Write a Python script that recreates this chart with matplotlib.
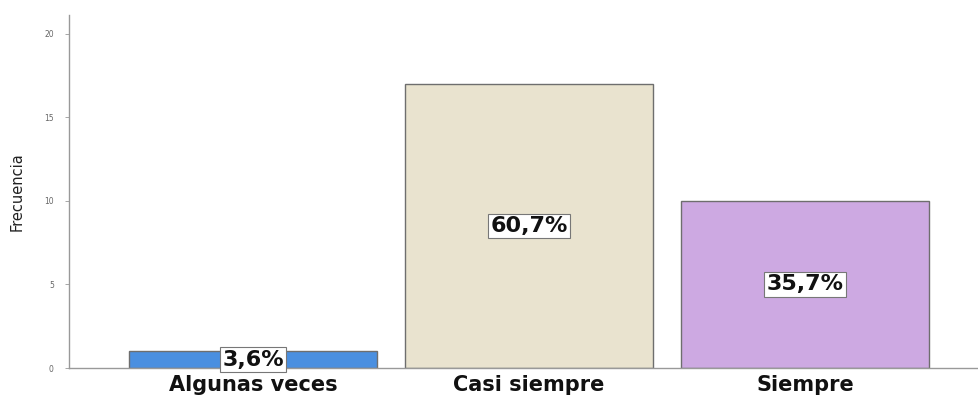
import matplotlib
matplotlib.use("Agg")
import matplotlib.pyplot as plt

categories = ["Algunas veces", "Casi siempre", "Siempre"]
counts = [1, 17, 10]
percent_labels = ["3,6%", "60,7%", "35,7%"]
colors = ["#4a8fe0", "#e9e3cf", "#cda9e2"]
yticks = [0, 5, 10, 15, 20]

fig = plt.figure(figsize=(9.79, 3.96), dpi=100)
ax = fig.add_axes([0.0705, 0.0707, 0.9295, 0.891])
x = list(range(len(categories)))
ax.bar(x, counts, width=0.9, color=colors, edgecolor="#6e6e6e", linewidth=1.0, zorder=2)
for xi, c, lab in zip(x, counts, percent_labels):
    ax.text(xi, c / 2, lab, ha="center", va="center", fontsize=16, fontweight="bold",
            family="DejaVu Sans", color="#111111", zorder=3,
            bbox=dict(boxstyle="square,pad=0.1", facecolor="white", edgecolor="#777777", linewidth=0.8))

ax.set_xlim(-0.667, 2.63)
ax.set_ylim(0, 21.1)
ax.set_yticks(yticks)
ax.set_yticklabels([str(t) for t in yticks], fontsize=5.5, color="#666666")
ax.tick_params(axis="y", length=3, width=0.6, color="#999999", pad=8)
ax.set_xticks(x)
ax.set_xticklabels(categories, fontsize=15, fontweight="bold", color="#111111")
ax.tick_params(axis="x", length=0, pad=5)
for s in ["top", "right"]:
    ax.spines[s].set_visible(False)
for s in ["left", "bottom"]:
    ax.spines[s].set_color("#999999")
    ax.spines[s].set_linewidth(1.0)
ax.set_ylabel("Frecuencia", fontsize=10.5, color="#222222", labelpad=14)

fig.savefig("out.png", dpi=100)
